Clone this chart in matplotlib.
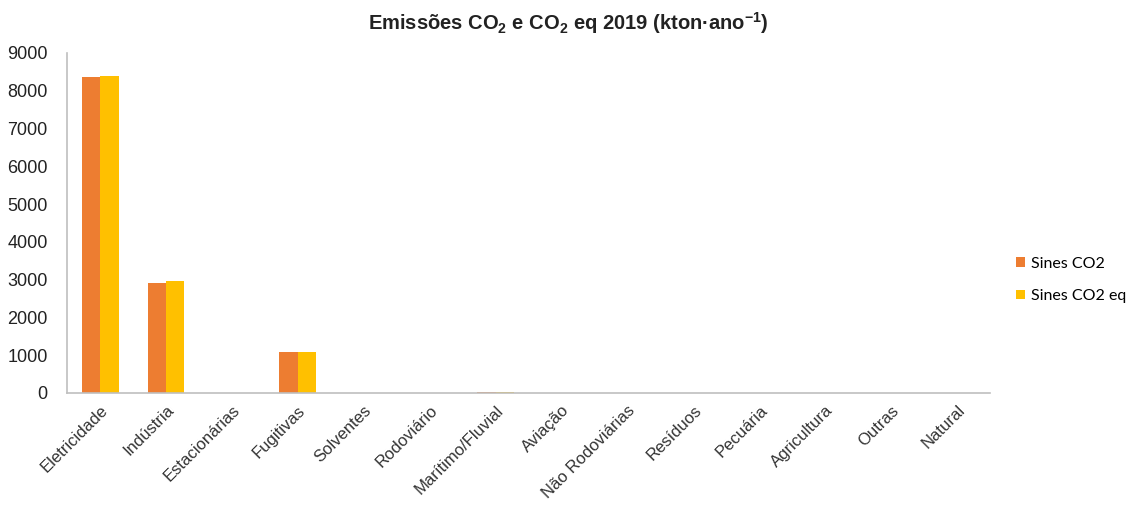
import matplotlib
matplotlib.use("Agg")
import matplotlib.pyplot as plt
import numpy as np

categories = ["Eletricidade", "Indústria", "Estacionárias", "Fugitivas", "Solventes",
              "Rodoviário", "Marítimo/Fluvial", "Aviação", "Não Rodoviárias", "Resíduos",
              "Pecuária", "Agricultura", "Outras", "Natural"]
co2 = [8360, 2910, 0, 1080, 0, 0, 25, 0, 8, 0, 0, 0, 0, 0]
co2eq = [8400, 2960, 0, 1085, 0, 0, 28, 0, 10, 0, 0, 0, 0, 0]
series_names = ["Sines CO2", "Sines CO2 eq"]
yticks = [0, 1000, 2000, 3000, 4000, 5000, 6000, 7000, 8000, 9000]

plt.rcParams['font.family'] = ['Liberation Sans', 'DejaVu Sans']
plt.rcParams['mathtext.fontset'] = 'custom'
plt.rcParams['mathtext.rm'] = 'Liberation Sans'
plt.rcParams['mathtext.bf'] = 'Liberation Sans:bold'

fig = plt.figure(figsize=(11.37, 5.09), dpi=100)
ax = fig.add_axes([0.059, 0.228, 0.812, 0.668])

x = np.arange(len(categories))
w = 0.28
ax.bar(x - w/2, co2, width=w, color="#ED7D31", label=series_names[0])
ax.bar(x + w/2, co2eq, width=w, color="#FFC000", label=series_names[1])

ax.set_xlim(-0.5, len(categories) - 0.5)
ax.set_ylim(0, 9000)
ax.set_yticks(yticks)
ax.set_yticklabels([str(v) for v in yticks], fontsize=13, color="#222222")
ax.set_xticks(x)
ax.set_xticklabels(categories, rotation=45, ha="right", rotation_mode="anchor",
                   fontsize=12, color="#333333")
ax.tick_params(axis="y", length=0, pad=14)
ax.tick_params(axis="x", length=0, pad=7)
for s in ["top", "right"]:
    ax.spines[s].set_visible(False)
for s in ["left", "bottom"]:
    ax.spines[s].set_color("#BFBFBF")
    ax.spines[s].set_linewidth(1.2)

fig.text(0.5, 0.955, r"Emissões CO$_\mathbf{2}$ e CO$_\mathbf{2}$ eq 2019 (kton·ano$^\mathbf{-1}$)",
         ha="center", va="center", fontsize=14.5, fontweight="bold", color="#222222")

leg = fig.legend(loc="center left", bbox_to_anchor=(0.894, 0.45), frameon=False,
                 handlelength=0.55, handleheight=0.55, handletextpad=0.35,
                 labelspacing=1.15, borderpad=0, borderaxespad=0,
                 prop={'family': 'Lato', 'size': 11.5})

fig.savefig("out.png", dpi=100)
